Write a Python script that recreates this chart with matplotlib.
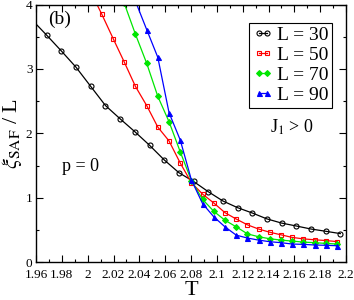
import matplotlib
matplotlib.use('Agg')
import matplotlib.pyplot as plt
from matplotlib.ticker import MultipleLocator, FixedLocator
import numpy as np

plt.rcParams['font.family'] = ['Liberation Serif', 'DejaVu Serif']
plt.rcParams['mathtext.fontset'] = 'stix'

# L = 30
t30 = [1.957, 1.9683, 1.9797, 1.991, 2.0024, 2.0138, 2.0251, 2.0365, 2.0479, 2.0592, 2.0706,
       2.082, 2.0933, 2.1047, 2.1161, 2.1274, 2.1388, 2.1502, 2.1615, 2.1729, 2.1843, 2.1956]
y30 = [3.76, 3.523, 3.277, 3.026, 2.728, 2.431, 2.226, 2.026, 1.815, 1.589, 1.39,
       1.253, 1.095, 0.95, 0.846, 0.764, 0.672, 0.607, 0.562, 0.515, 0.48, 0.444]

# L = 50
t50 = [2.0023, 2.011, 2.0197, 2.0283, 2.037, 2.0457, 2.0543, 2.063, 2.0717, 2.0803, 2.089, 2.0977,
       2.1063, 2.115, 2.1237, 2.1323, 2.141, 2.1497, 2.1583, 2.167, 2.1757, 2.1843, 2.193]
y50 = [4.2, 3.846, 3.472, 3.108, 2.728, 2.431, 2.097, 1.882, 1.538, 1.235, 1.056, 0.918,
       0.769, 0.670, 0.580, 0.515, 0.465, 0.425, 0.385, 0.362, 0.348, 0.336, 0.320]

# L = 70
t70 = [2.0283, 2.037, 2.0457, 2.0543, 2.063, 2.0717, 2.0803, 2.089, 2.0977, 2.1063, 2.115,
       2.1237, 2.1323, 2.141, 2.1497, 2.1583, 2.167, 2.1757, 2.1843, 2.193]
y70 = [4.02, 3.538, 3.087, 2.574, 2.18, 1.712, 1.266, 0.974, 0.789, 0.651, 0.549,
       0.44, 0.395, 0.364, 0.343, 0.328, 0.312, 0.303, 0.292, 0.282]

# L = 90
t90 = [2.037, 2.0457, 2.0543, 2.063, 2.0717, 2.0803, 2.089, 2.0977, 2.1063, 2.115,
       2.1237, 2.1323, 2.141, 2.1497, 2.1583, 2.167, 2.1757, 2.1843, 2.193]
y90 = [4.05, 3.61, 3.18, 2.32, 1.895, 1.277, 0.908, 0.703, 0.549, 0.42,
       0.375, 0.343, 0.318, 0.303, 0.282, 0.277, 0.267, 0.262, 0.256]

xticks = [1.96, 1.98, 2.0, 2.02, 2.04, 2.06, 2.08, 2.1, 2.12, 2.14, 2.16, 2.18, 2.2]
xlabels = ['1.96', '1.98', '2', '2.02', '2.04', '2.06', '2.08', '2.1', '2.12', '2.14', '2.16', '2.18', '2.2']

fig = plt.figure(figsize=(3.54, 3.0), dpi=100)
ax = fig.add_axes([0.1017, 0.126, 0.8757, 0.859])

lw = 0.9
ms = 3.6
ax.plot(t30, y30, color='black', lw=lw, marker='o', ms=ms, mfc='none', mew=0.8, label='L = 30')
ax.plot(t50, y50, color='red', lw=lw, marker='s', ms=ms - 0.4, mfc='none', mew=0.8, label='L = 50')
ax.plot(t70, y70, color='#00e600', lw=lw, marker='D', ms=ms - 0.6, mew=0.8, label='L = 70')
ax.plot(t90, y90, color='blue', lw=lw, marker='^', ms=ms, mew=0.8, label='L = 90')

ax.set_xlim(1.96, 2.2)
ax.set_ylim(0, 4)
ax.xaxis.set_major_locator(FixedLocator(xticks))
ax.set_xticklabels(xlabels)
ax.xaxis.set_minor_locator(MultipleLocator(0.01))
ax.yaxis.set_major_locator(MultipleLocator(1))
ax.yaxis.set_minor_locator(MultipleLocator(0.5))
ax.tick_params(which='both', direction='in', top=True, right=True, labelsize=9.5)
ax.tick_params(axis='x', pad=4.6)
ax.tick_params(axis='y', pad=2.5)
ax.tick_params(which='major', length=5, width=0.8)
ax.tick_params(which='minor', length=2.5, width=0.8)
for s in ax.spines.values():
    s.set_linewidth(1.0)

ax.set_xlabel('T', fontsize=16, labelpad=0)
ax.set_ylabel(r'$\xi_{\rm SAF}$ / L', fontsize=16, labelpad=1)

ax.text(0.04, 0.975, '(b)', transform=ax.transAxes, fontsize=14, va='top', ha='left')
ax.text(0.085, 0.37, 'p = 0', transform=ax.transAxes, fontsize=13, va='center', ha='left')
ax.text(0.755, 0.525, r'J$_1$ > 0', transform=ax.transAxes, fontsize=13, va='center', ha='left')

leg = ax.legend(loc='upper right', bbox_to_anchor=(0.955, 0.93), numpoints=2, fontsize=14,
                handlelength=1.0, handletextpad=0.2, borderpad=0.2, labelspacing=0.12,
                fancybox=False, framealpha=1, borderaxespad=0)
leg.get_frame().set_edgecolor('black')
leg.get_frame().set_linewidth(0.8)

fig.savefig('out.png', dpi=100)
